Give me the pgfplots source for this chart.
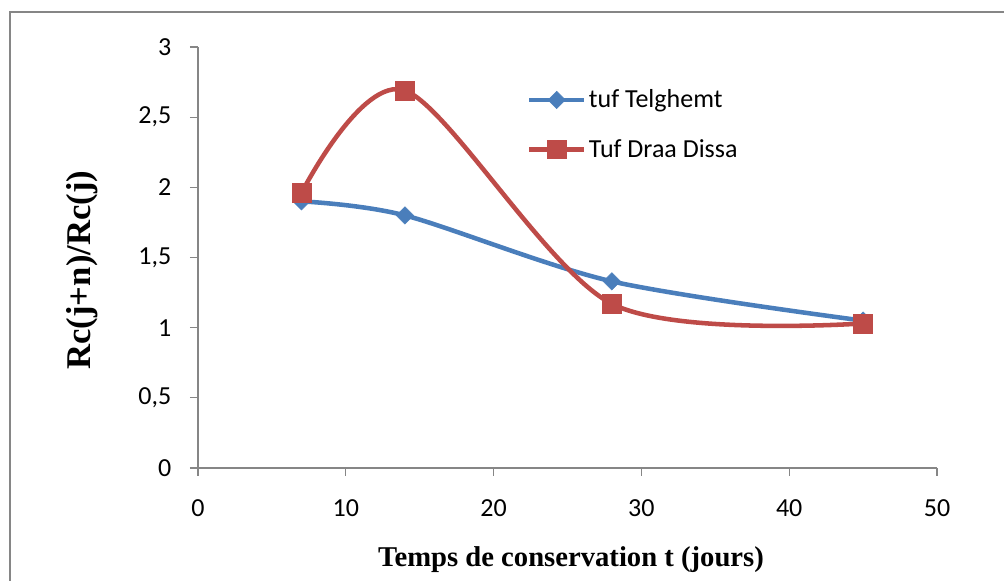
\documentclass[border=0pt]{standalone}
\usepackage{pgfplots}
\pgfplotsset{compat=1.18}
\usepackage{fontspec}
\setmainfont{Liberation Serif}
\newfontfamily\calibri{Carlito}
\definecolor{bluS}{HTML}{4A7EBB}
\definecolor{redS}{HTML}{BE4B48}
\definecolor{axg}{HTML}{868686}
\begin{document}
\begin{tikzpicture}
\path[use as bounding box] (0pt,0pt) rectangle (753pt,435.75pt);
\draw[axg, line width=1.8pt] (7.5pt,-10pt) -- (7.5pt,426.75pt) -- (760pt,426.75pt);
\begin{axis}[
  at={(148.5pt,84.75pt)}, anchor=south west,
  scale only axis, width=554.25pt, height=315.75pt,
  xmin=0, xmax=50, ymin=0, ymax=3,
  xtick={0,10,...,50}, ytick={0,0.5,...,3},
  axis x line*=bottom, axis y line*=left,
  axis line style={axg, line width=0.9pt, -},
  tick style={axg, line width=0.9pt},
  tick align=outside, major tick length=6pt,
  tick label style={font=\calibri\fontsize{19.5}{19.5}\selectfont, text=black},
  yticklabel style={xshift=-10.5pt},
  xticklabel style={yshift=-14pt},
  /pgf/number format/use comma,
  /pgf/number format/assume math mode=true,
  xlabel={Temps de conservation t (jours)},
  ylabel={Rc(j+n)/Rc(j)},
  xlabel style={at={(axis description cs:0.5047,-0.2185)}, anchor=center, font=\bfseries\fontsize{21.5}{21.5}\selectfont},
  ylabel style={at={(axis description cs:-0.157,0.470)}, anchor=center, rotate=0, font=\bfseries\fontsize{26}{26}\selectfont},
  legend style={at={(axis description cs:0.445,0.905)}, anchor=north west, draw=none, fill=none,
    font=\calibri\fontsize{19.5}{19.5}\selectfont, row sep=18pt, inner sep=0pt},
  legend cell align=left,
  legend image code/.code={\draw[mark repeat=2,mark phase=2,#1] plot coordinates {(0pt,0pt) (20.5pt,0pt) (41pt,0pt)};},
]
\addplot[bluS, line width=3.4pt, smooth, tension=0.5, mark=square*, mark size=4.6pt,
  mark options={rotate=45, solid, fill=bluS, line width=0.4pt}]
  coordinates {(7,1.90) (14,1.80) (28,1.33) (45,1.05)};
\addlegendentry{tuf Telghemt}
\addplot[redS, line width=3.4pt, smooth, tension=0.5, mark=square*, mark size=7pt,
  mark options={solid, fill=redS, line width=0.4pt}]
  coordinates {(7,1.96) (14,2.69) (28,1.17) (45,1.03)};
\addlegendentry{Tuf Draa Dissa}
\end{axis}
\end{tikzpicture}
\end{document}
